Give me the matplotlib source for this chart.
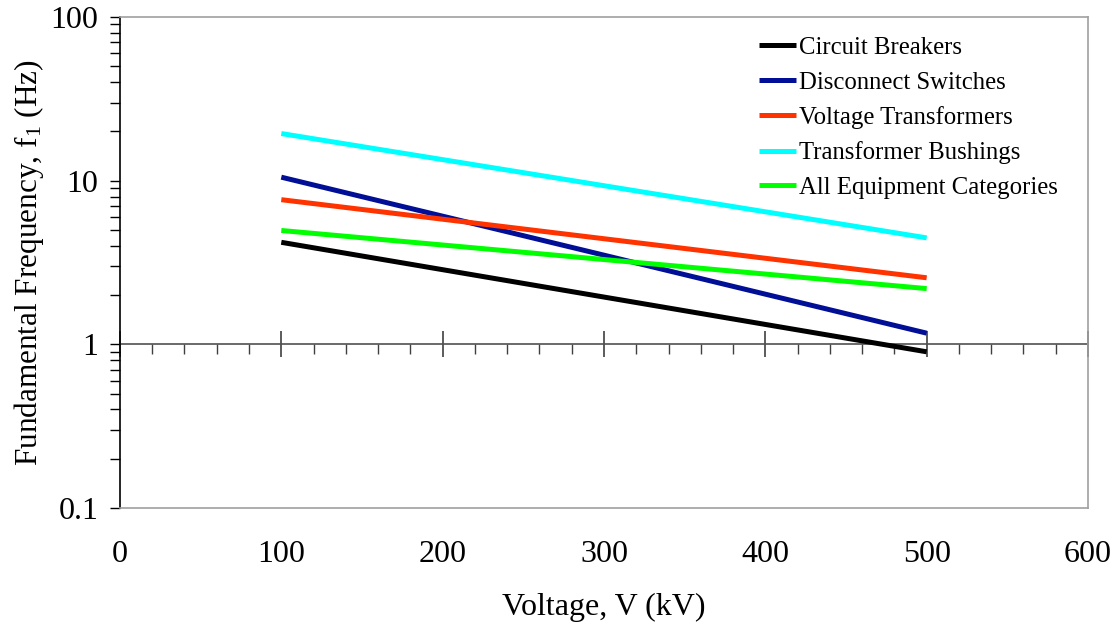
import matplotlib.pyplot as plt
from matplotlib.ticker import MultipleLocator, LogLocator, NullFormatter

plt.rcParams['font.family'] = ['Liberation Serif', 'DejaVu Serif']
plt.rcParams['mathtext.fontset'] = 'custom'
plt.rcParams['mathtext.rm'] = 'Liberation Serif'
plt.rcParams['mathtext.it'] = 'Liberation Serif'

# voltage range (kV) and fundamental frequency at the ends (Hz)
voltage = [100, 500]
circuit_breakers = [4.2, 0.90]
disconnect_switches = [10.5, 1.17]
voltage_transformers = [7.65, 2.55]
transformer_bushings = [19.4, 4.47]
all_equipment = [4.96, 2.19]

series = [
    ("Circuit Breakers", circuit_breakers, "#000000"),
    ("Disconnect Switches", disconnect_switches, "#000f96"),
    ("Voltage Transformers", voltage_transformers, "#ff3300"),
    ("Transformer Bushings", transformer_bushings, "#00ffff"),
    ("All Equipment Categories", all_equipment, "#00ff00"),
]

fig = plt.figure(figsize=(11.19, 6.29), dpi=100)
ax = fig.add_axes([0.1072, 0.1924, 0.8651, 0.7806])

for name, vals, col in series:
    ax.plot(voltage, vals, color=col, lw=3.6, label=name, solid_capstyle='butt')

ax.set_yscale('log')
ax.set_ylim(0.1, 100)
ax.set_xlim(0, 600)

# y axis: black spine, ticks outward
ax.yaxis.set_minor_locator(LogLocator(base=10, subs=range(2, 10)))
ax.yaxis.set_minor_formatter(NullFormatter())
ax.set_yticks([0.1, 1, 10, 100])
ax.set_yticklabels(['0.1', '1', '10', '100'])
ax.tick_params(axis='y', which='both', direction='out', length=7.5, width=1,
               labelsize=23, pad=8, color='black')
ax.spines['left'].set_color('black')
ax.spines['left'].set_linewidth(1.2)
for s in ['top', 'right', 'bottom']:
    ax.spines[s].set_color('#a0a0a0')
    ax.spines[s].set_linewidth(1.2)

# x labels sit at the bottom of the box, no ticks there
ax.xaxis.set_major_locator(MultipleLocator(100))
ax.tick_params(axis='x', which='both', length=0, labelsize=23, pad=23)

# horizontal axis line crossing at f = 1 Hz
sec = ax.secondary_xaxis(1 / 3)
sec.xaxis.set_major_locator(MultipleLocator(100))
sec.xaxis.set_minor_locator(MultipleLocator(20))
sec.tick_params(axis='x', which='major', direction='inout', length=19, width=1.2,
                color='#404040', labelbottom=False)
sec.tick_params(axis='x', which='minor', direction='out', length=7.5, width=1,
                color='#404040')
sec.spines['bottom'].set_color('#505050')
sec.spines['bottom'].set_linewidth(1.2)

ax.set_xlabel('Voltage, V (kV)', fontsize=23, labelpad=17)
ax.set_ylabel(r'Fundamental Frequency, f$_1$ (Hz)', fontsize=22.5, labelpad=3)

ax.legend(loc='upper right', frameon=False, fontsize=17.8, handlelength=1.5,
          handletextpad=0.12, labelspacing=0.5, borderaxespad=0,
          bbox_to_anchor=(0.979, 0.98))

fig.savefig('out.png', dpi=100)
